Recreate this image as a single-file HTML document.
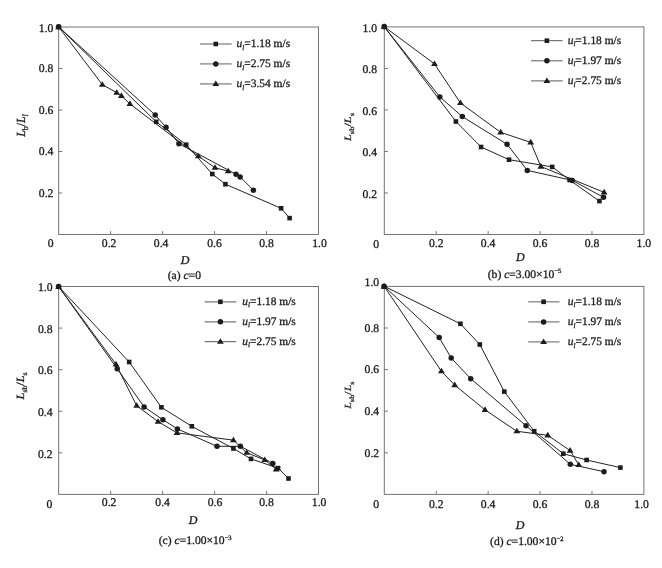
<!DOCTYPE html>
<html><head><meta charset="utf-8"><title>Figure</title>
<style>
html,body{margin:0;padding:0;background:#fff;}
body{width:662px;height:568px;overflow:hidden;font-family:"Liberation Serif",serif;}
text{stroke:#1a1a1a;stroke-width:0.3px;text-rendering:geometricPrecision;}
svg{display:block;font-family:"Liberation Serif",serif;filter:grayscale(1);will-change:transform;}
</style></head>
<body>
<svg width="662" height="568" viewBox="0 0 662 568">
<rect width="662" height="568" fill="#fff"/>
<rect x="58.65" y="27.0" width="259.85" height="207.50" fill="none" stroke="#747474" stroke-width="1.0"/>
<line x1="110.62" y1="234.5" x2="110.62" y2="231.1" stroke="#747474" stroke-width="1"/>
<line x1="58.65" y1="193.00" x2="62.25" y2="193.00" stroke="#747474" stroke-width="1"/>
<line x1="162.59" y1="234.5" x2="162.59" y2="231.1" stroke="#747474" stroke-width="1"/>
<line x1="58.65" y1="151.50" x2="62.25" y2="151.50" stroke="#747474" stroke-width="1"/>
<line x1="214.56" y1="234.5" x2="214.56" y2="231.1" stroke="#747474" stroke-width="1"/>
<line x1="58.65" y1="110.00" x2="62.25" y2="110.00" stroke="#747474" stroke-width="1"/>
<line x1="266.53" y1="234.5" x2="266.53" y2="231.1" stroke="#747474" stroke-width="1"/>
<line x1="58.65" y1="68.50" x2="62.25" y2="68.50" stroke="#747474" stroke-width="1"/>
<text x="53.4" y="196.80" text-anchor="end" font-size="11.7" fill="#1a1a1a">0.2</text>
<text x="53.4" y="155.30" text-anchor="end" font-size="11.7" fill="#1a1a1a">0.4</text>
<text x="53.4" y="113.80" text-anchor="end" font-size="11.7" fill="#1a1a1a">0.6</text>
<text x="53.4" y="72.30" text-anchor="end" font-size="11.7" fill="#1a1a1a">0.8</text>
<text x="53.4" y="32.20" text-anchor="end" font-size="11.7" fill="#1a1a1a">1.0</text>
<text x="109.12" y="246.50" text-anchor="middle" font-size="11.7" fill="#1a1a1a">0.2</text>
<text x="161.09" y="246.50" text-anchor="middle" font-size="11.7" fill="#1a1a1a">0.4</text>
<text x="214.56" y="246.50" text-anchor="middle" font-size="11.7" fill="#1a1a1a">0.6</text>
<text x="266.53" y="246.50" text-anchor="middle" font-size="11.7" fill="#1a1a1a">0.8</text>
<text x="319.50" y="246.50" text-anchor="middle" font-size="11.7" fill="#1a1a1a">1.0</text>
<text x="50.7" y="246.70" text-anchor="middle" font-size="11.7" fill="#1a1a1a">0</text>
<text x="185.1" y="263.70" text-anchor="middle" font-size="12" font-style="italic" fill="#1a1a1a">D</text>
<text x="184.3" y="279.20" text-anchor="middle" font-size="11.6" fill="#1a1a1a">(a) <tspan font-style="italic">c</tspan>=0</text>
<text transform="translate(25.2,125.5) rotate(-90) scale(1,1.05)" text-anchor="middle" font-size="11.8" fill="#1a1a1a"><tspan font-style="italic">L</tspan><tspan dy="2.8" font-size="8.0">b</tspan><tspan dy="-2.8">/</tspan><tspan font-style="italic">L</tspan><tspan dy="2.8" font-size="8.0" font-style="italic">l</tspan></text>
<polyline points="58.60,26.80 156.20,121.80 186.20,144.70 212.30,174.00 225.40,184.20 281.10,208.30 289.60,218.10" fill="none" stroke="#222" stroke-width="1.0"/>
<polyline points="58.60,26.80 155.20,115.00 166.00,127.30 178.90,143.70 236.00,174.20 240.10,176.90 253.40,190.20" fill="none" stroke="#222" stroke-width="1.0"/>
<polyline points="58.60,26.80 102.30,84.65 116.70,92.65 121.40,95.85 129.90,103.85 198.30,156.15 215.00,167.75 228.20,171.15" fill="none" stroke="#222" stroke-width="1.0"/>
<rect x="153.90" y="119.50" width="4.6" height="4.6" fill="#1c1c1c"/>
<rect x="183.90" y="142.40" width="4.6" height="4.6" fill="#1c1c1c"/>
<rect x="210.00" y="171.70" width="4.6" height="4.6" fill="#1c1c1c"/>
<rect x="223.10" y="181.90" width="4.6" height="4.6" fill="#1c1c1c"/>
<rect x="278.80" y="206.00" width="4.6" height="4.6" fill="#1c1c1c"/>
<rect x="287.30" y="215.80" width="4.6" height="4.6" fill="#1c1c1c"/>
<circle cx="155.20" cy="115.00" r="2.75" fill="#1c1c1c"/>
<circle cx="166.00" cy="127.30" r="2.75" fill="#1c1c1c"/>
<circle cx="178.90" cy="143.70" r="2.75" fill="#1c1c1c"/>
<circle cx="236.00" cy="174.20" r="2.75" fill="#1c1c1c"/>
<circle cx="240.10" cy="176.90" r="2.75" fill="#1c1c1c"/>
<circle cx="253.40" cy="190.20" r="2.75" fill="#1c1c1c"/>
<path d="M102.30 81.15 L105.70 86.75 L98.90 86.75 Z" fill="#1c1c1c"/>
<path d="M116.70 89.15 L120.10 94.75 L113.30 94.75 Z" fill="#1c1c1c"/>
<path d="M121.40 92.35 L124.80 97.95 L118.00 97.95 Z" fill="#1c1c1c"/>
<path d="M129.90 100.35 L133.30 105.95 L126.50 105.95 Z" fill="#1c1c1c"/>
<path d="M198.30 152.65 L201.70 158.25 L194.90 158.25 Z" fill="#1c1c1c"/>
<path d="M215.00 164.25 L218.40 169.85 L211.60 169.85 Z" fill="#1c1c1c"/>
<path d="M228.20 167.65 L231.60 173.25 L224.80 173.25 Z" fill="#1c1c1c"/>
<rect x="56.60" y="24.80" width="4.0" height="4.0" fill="#1c1c1c"/>
<path d="M58.60 23.70 L62.00 29.30 L55.20 29.30 Z" fill="#1c1c1c"/>
<circle cx="58.60" cy="26.80" r="2.8" fill="#1c1c1c"/>
<line x1="200.0" y1="44.0" x2="231.7" y2="44.0" stroke="#8c8c8c" stroke-width="1.4"/>
<rect x="213.50" y="41.70" width="4.6" height="4.6" fill="#1c1c1c"/>
<text x="236.6" y="47.20" font-size="11.45" fill="#1a1a1a"><tspan font-style="italic">u</tspan><tspan dy="2.4" font-size="7" font-style="italic">l</tspan><tspan dy="-2.4">=1.18 m/s</tspan></text>
<line x1="200.0" y1="63.9" x2="231.7" y2="63.9" stroke="#8c8c8c" stroke-width="1.4"/>
<circle cx="215.80" cy="63.90" r="2.75" fill="#1c1c1c"/>
<text x="236.6" y="67.10" font-size="11.45" fill="#1a1a1a"><tspan font-style="italic">u</tspan><tspan dy="2.4" font-size="7" font-style="italic">l</tspan><tspan dy="-2.4">=2.75 m/s</tspan></text>
<line x1="200.0" y1="83.9" x2="231.7" y2="83.9" stroke="#8c8c8c" stroke-width="1.4"/>
<path d="M215.80 80.40 L219.20 86.00 L212.40 86.00 Z" fill="#1c1c1c"/>
<text x="236.6" y="87.10" font-size="11.45" fill="#1a1a1a"><tspan font-style="italic">u</tspan><tspan dy="2.4" font-size="7" font-style="italic">l</tspan><tspan dy="-2.4">=3.54 m/s</tspan></text>
<rect x="384.3" y="26.9" width="259.60" height="207.60" fill="none" stroke="#747474" stroke-width="1.0"/>
<line x1="436.22" y1="234.5" x2="436.22" y2="231.1" stroke="#747474" stroke-width="1"/>
<line x1="384.3" y1="192.98" x2="387.90000000000003" y2="192.98" stroke="#747474" stroke-width="1"/>
<line x1="488.14" y1="234.5" x2="488.14" y2="231.1" stroke="#747474" stroke-width="1"/>
<line x1="384.3" y1="151.46" x2="387.90000000000003" y2="151.46" stroke="#747474" stroke-width="1"/>
<line x1="540.06" y1="234.5" x2="540.06" y2="231.1" stroke="#747474" stroke-width="1"/>
<line x1="384.3" y1="109.94" x2="387.90000000000003" y2="109.94" stroke="#747474" stroke-width="1"/>
<line x1="591.98" y1="234.5" x2="591.98" y2="231.1" stroke="#747474" stroke-width="1"/>
<line x1="384.3" y1="68.42" x2="387.90000000000003" y2="68.42" stroke="#747474" stroke-width="1"/>
<text x="377.0" y="197.78" text-anchor="end" font-size="11.7" fill="#1a1a1a">0.2</text>
<text x="377.0" y="156.26" text-anchor="end" font-size="11.7" fill="#1a1a1a">0.4</text>
<text x="377.0" y="114.74" text-anchor="end" font-size="11.7" fill="#1a1a1a">0.6</text>
<text x="377.0" y="73.22" text-anchor="end" font-size="11.7" fill="#1a1a1a">0.8</text>
<text x="377.0" y="32.20" text-anchor="end" font-size="11.7" fill="#1a1a1a">1.0</text>
<text x="436.22" y="246.80" text-anchor="middle" font-size="11.7" fill="#1a1a1a">0.2</text>
<text x="488.14" y="246.80" text-anchor="middle" font-size="11.7" fill="#1a1a1a">0.4</text>
<text x="540.06" y="246.80" text-anchor="middle" font-size="11.7" fill="#1a1a1a">0.6</text>
<text x="591.98" y="246.80" text-anchor="middle" font-size="11.7" fill="#1a1a1a">0.8</text>
<text x="643.90" y="246.80" text-anchor="middle" font-size="11.7" fill="#1a1a1a">1.0</text>
<text x="376.2" y="248.40" text-anchor="middle" font-size="11.7" fill="#1a1a1a">0</text>
<text x="520.4" y="261.20" text-anchor="middle" font-size="12" font-style="italic" fill="#1a1a1a">D</text>
<text x="524.5" y="277.60" text-anchor="middle" font-size="11.6" fill="#1a1a1a">(b) <tspan font-style="italic">c</tspan>=3.00×10<tspan dy="-4.2" font-size="6.6">−5</tspan></text>
<text transform="translate(350.5,127.0) rotate(-90) scale(1,0.78)" text-anchor="middle" font-size="12.3" fill="#1a1a1a"><tspan font-style="italic">L</tspan><tspan dy="4.0" font-size="8.6">sb</tspan><tspan dy="-4.0">/</tspan><tspan font-style="italic">L</tspan><tspan dy="4.0" font-size="8.6">s</tspan></text>
<polyline points="384.20,26.60 455.90,121.50 481.10,147.00 509.00,159.70 552.20,166.90 569.60,180.00 599.40,201.10" fill="none" stroke="#222" stroke-width="1.0"/>
<polyline points="384.20,26.60 439.80,96.90 462.30,116.60 507.10,144.30 527.30,170.40 572.30,180.40 603.50,197.30" fill="none" stroke="#222" stroke-width="1.0"/>
<polyline points="384.20,26.60 434.50,63.95 460.40,102.95 500.70,132.35 530.70,142.35 540.90,166.55 604.10,192.35" fill="none" stroke="#222" stroke-width="1.0"/>
<rect x="453.60" y="119.20" width="4.6" height="4.6" fill="#1c1c1c"/>
<rect x="478.80" y="144.70" width="4.6" height="4.6" fill="#1c1c1c"/>
<rect x="506.70" y="157.40" width="4.6" height="4.6" fill="#1c1c1c"/>
<rect x="549.90" y="164.60" width="4.6" height="4.6" fill="#1c1c1c"/>
<rect x="567.30" y="177.70" width="4.6" height="4.6" fill="#1c1c1c"/>
<rect x="597.10" y="198.80" width="4.6" height="4.6" fill="#1c1c1c"/>
<circle cx="439.80" cy="96.90" r="2.75" fill="#1c1c1c"/>
<circle cx="462.30" cy="116.60" r="2.75" fill="#1c1c1c"/>
<circle cx="507.10" cy="144.30" r="2.75" fill="#1c1c1c"/>
<circle cx="527.30" cy="170.40" r="2.75" fill="#1c1c1c"/>
<circle cx="572.30" cy="180.40" r="2.75" fill="#1c1c1c"/>
<circle cx="603.50" cy="197.30" r="2.75" fill="#1c1c1c"/>
<path d="M434.50 60.45 L437.90 66.05 L431.10 66.05 Z" fill="#1c1c1c"/>
<path d="M460.40 99.45 L463.80 105.05 L457.00 105.05 Z" fill="#1c1c1c"/>
<path d="M500.70 128.85 L504.10 134.45 L497.30 134.45 Z" fill="#1c1c1c"/>
<path d="M530.70 138.85 L534.10 144.45 L527.30 144.45 Z" fill="#1c1c1c"/>
<path d="M540.90 163.05 L544.30 168.65 L537.50 168.65 Z" fill="#1c1c1c"/>
<path d="M604.10 188.85 L607.50 194.45 L600.70 194.45 Z" fill="#1c1c1c"/>
<rect x="382.20" y="24.60" width="4.0" height="4.0" fill="#1c1c1c"/>
<path d="M384.20 23.50 L387.60 29.10 L380.80 29.10 Z" fill="#1c1c1c"/>
<circle cx="384.20" cy="26.60" r="2.8" fill="#1c1c1c"/>
<line x1="531.1" y1="40.7" x2="562.6" y2="40.7" stroke="#5a5a5a" stroke-width="1.0"/>
<rect x="544.60" y="38.40" width="4.6" height="4.6" fill="#1c1c1c"/>
<text x="567.7" y="43.90" font-size="11.45" fill="#1a1a1a"><tspan font-style="italic">u</tspan><tspan dy="2.4" font-size="7" font-style="italic">l</tspan><tspan dy="-2.4">=1.18 m/s</tspan></text>
<line x1="531.1" y1="60.8" x2="562.6" y2="60.8" stroke="#5a5a5a" stroke-width="1.0"/>
<circle cx="546.90" cy="60.80" r="2.75" fill="#1c1c1c"/>
<text x="567.7" y="64.00" font-size="11.45" fill="#1a1a1a"><tspan font-style="italic">u</tspan><tspan dy="2.4" font-size="7" font-style="italic">l</tspan><tspan dy="-2.4">=1.97 m/s</tspan></text>
<line x1="531.1" y1="80.9" x2="562.6" y2="80.9" stroke="#5a5a5a" stroke-width="1.0"/>
<path d="M546.90 77.40 L550.30 83.00 L543.50 83.00 Z" fill="#1c1c1c"/>
<text x="567.7" y="84.10" font-size="11.45" fill="#1a1a1a"><tspan font-style="italic">u</tspan><tspan dy="2.4" font-size="7" font-style="italic">l</tspan><tspan dy="-2.4">=2.75 m/s</tspan></text>
<rect x="58.65" y="286.5" width="259.85" height="207.90" fill="none" stroke="#747474" stroke-width="1.0"/>
<line x1="110.62" y1="494.4" x2="110.62" y2="491.0" stroke="#747474" stroke-width="1"/>
<line x1="58.65" y1="452.82" x2="62.25" y2="452.82" stroke="#747474" stroke-width="1"/>
<line x1="162.59" y1="494.4" x2="162.59" y2="491.0" stroke="#747474" stroke-width="1"/>
<line x1="58.65" y1="411.24" x2="62.25" y2="411.24" stroke="#747474" stroke-width="1"/>
<line x1="214.56" y1="494.4" x2="214.56" y2="491.0" stroke="#747474" stroke-width="1"/>
<line x1="58.65" y1="369.66" x2="62.25" y2="369.66" stroke="#747474" stroke-width="1"/>
<line x1="266.53" y1="494.4" x2="266.53" y2="491.0" stroke="#747474" stroke-width="1"/>
<line x1="58.65" y1="328.08" x2="62.25" y2="328.08" stroke="#747474" stroke-width="1"/>
<text x="52.6" y="457.62" text-anchor="end" font-size="11.7" fill="#1a1a1a">0.2</text>
<text x="52.6" y="416.04" text-anchor="end" font-size="11.7" fill="#1a1a1a">0.4</text>
<text x="52.6" y="374.46" text-anchor="end" font-size="11.7" fill="#1a1a1a">0.6</text>
<text x="52.6" y="332.88" text-anchor="end" font-size="11.7" fill="#1a1a1a">0.8</text>
<text x="52.6" y="291.30" text-anchor="end" font-size="11.7" fill="#1a1a1a">1.0</text>
<text x="109.12" y="505.90" text-anchor="middle" font-size="11.7" fill="#1a1a1a">0.2</text>
<text x="162.59" y="505.90" text-anchor="middle" font-size="11.7" fill="#1a1a1a">0.4</text>
<text x="215.06" y="505.90" text-anchor="middle" font-size="11.7" fill="#1a1a1a">0.6</text>
<text x="266.53" y="505.90" text-anchor="middle" font-size="11.7" fill="#1a1a1a">0.8</text>
<text x="319.10" y="505.90" text-anchor="middle" font-size="11.7" fill="#1a1a1a">1.0</text>
<text x="49.4" y="507.80" text-anchor="middle" font-size="11.7" fill="#1a1a1a">0</text>
<text x="193.0" y="523.90" text-anchor="middle" font-size="12" font-style="italic" fill="#1a1a1a">D</text>
<text x="195.2" y="544.10" text-anchor="middle" font-size="11.6" fill="#1a1a1a">(c) <tspan font-style="italic">c</tspan>=1.00×10<tspan dy="-4.2" font-size="6.6">−3</tspan></text>
<text transform="translate(24.3,385.9) rotate(-90) scale(1,0.9)" text-anchor="middle" font-size="12.3" fill="#1a1a1a"><tspan font-style="italic">L</tspan><tspan dy="3.0" font-size="7.8">sb</tspan><tspan dy="-3.0">/</tspan><tspan font-style="italic">L</tspan><tspan dy="3.0" font-size="7.8">s</tspan></text>
<polyline points="58.60,286.50 129.20,362.00 161.40,407.30 191.80,426.30 233.40,448.50 251.00,458.90 278.10,468.10 288.50,478.50" fill="none" stroke="#222" stroke-width="1.0"/>
<polyline points="58.60,286.50 117.20,368.70 144.10,406.90 162.90,419.70 177.40,428.90 217.00,446.30 240.40,446.30 272.80,463.50" fill="none" stroke="#222" stroke-width="1.0"/>
<polyline points="58.60,286.50 116.00,364.35 136.70,405.75 158.10,421.65 177.00,432.85 233.40,440.15 246.70,452.75 264.80,459.95 276.20,469.35" fill="none" stroke="#222" stroke-width="1.0"/>
<rect x="126.90" y="359.70" width="4.6" height="4.6" fill="#1c1c1c"/>
<rect x="159.10" y="405.00" width="4.6" height="4.6" fill="#1c1c1c"/>
<rect x="189.50" y="424.00" width="4.6" height="4.6" fill="#1c1c1c"/>
<rect x="231.10" y="446.20" width="4.6" height="4.6" fill="#1c1c1c"/>
<rect x="248.70" y="456.60" width="4.6" height="4.6" fill="#1c1c1c"/>
<rect x="275.80" y="465.80" width="4.6" height="4.6" fill="#1c1c1c"/>
<rect x="286.20" y="476.20" width="4.6" height="4.6" fill="#1c1c1c"/>
<circle cx="117.20" cy="368.70" r="2.75" fill="#1c1c1c"/>
<circle cx="144.10" cy="406.90" r="2.75" fill="#1c1c1c"/>
<circle cx="162.90" cy="419.70" r="2.75" fill="#1c1c1c"/>
<circle cx="177.40" cy="428.90" r="2.75" fill="#1c1c1c"/>
<circle cx="217.00" cy="446.30" r="2.75" fill="#1c1c1c"/>
<circle cx="240.40" cy="446.30" r="2.75" fill="#1c1c1c"/>
<circle cx="272.80" cy="463.50" r="2.75" fill="#1c1c1c"/>
<path d="M116.00 360.85 L119.40 366.45 L112.60 366.45 Z" fill="#1c1c1c"/>
<path d="M136.70 402.25 L140.10 407.85 L133.30 407.85 Z" fill="#1c1c1c"/>
<path d="M158.10 418.15 L161.50 423.75 L154.70 423.75 Z" fill="#1c1c1c"/>
<path d="M177.00 429.35 L180.40 434.95 L173.60 434.95 Z" fill="#1c1c1c"/>
<path d="M233.40 436.65 L236.80 442.25 L230.00 442.25 Z" fill="#1c1c1c"/>
<path d="M246.70 449.25 L250.10 454.85 L243.30 454.85 Z" fill="#1c1c1c"/>
<path d="M264.80 456.45 L268.20 462.05 L261.40 462.05 Z" fill="#1c1c1c"/>
<path d="M276.20 465.85 L279.60 471.45 L272.80 471.45 Z" fill="#1c1c1c"/>
<rect x="56.60" y="284.50" width="4.0" height="4.0" fill="#1c1c1c"/>
<path d="M58.60 283.40 L62.00 289.00 L55.20 289.00 Z" fill="#1c1c1c"/>
<circle cx="58.60" cy="286.50" r="2.8" fill="#1c1c1c"/>
<line x1="204.6" y1="301.8" x2="236.2" y2="301.8" stroke="#777" stroke-width="1.2"/>
<rect x="218.10" y="299.50" width="4.6" height="4.6" fill="#1c1c1c"/>
<text x="242.3" y="305.00" font-size="11.45" fill="#1a1a1a"><tspan font-style="italic">u</tspan><tspan dy="2.4" font-size="7" font-style="italic">l</tspan><tspan dy="-2.4">=1.18 m/s</tspan></text>
<line x1="204.6" y1="321.8" x2="236.2" y2="321.8" stroke="#777" stroke-width="1.2"/>
<circle cx="220.40" cy="321.80" r="2.75" fill="#1c1c1c"/>
<text x="242.3" y="325.00" font-size="11.45" fill="#1a1a1a"><tspan font-style="italic">u</tspan><tspan dy="2.4" font-size="7" font-style="italic">l</tspan><tspan dy="-2.4">=1.97 m/s</tspan></text>
<line x1="204.6" y1="341.7" x2="236.2" y2="341.7" stroke="#777" stroke-width="1.2"/>
<path d="M220.40 338.20 L223.80 343.80 L217.00 343.80 Z" fill="#1c1c1c"/>
<text x="242.3" y="344.90" font-size="11.45" fill="#1a1a1a"><tspan font-style="italic">u</tspan><tspan dy="2.4" font-size="7" font-style="italic">l</tspan><tspan dy="-2.4">=2.75 m/s</tspan></text>
<rect x="384.3" y="286.4" width="259.60" height="208.00" fill="none" stroke="#747474" stroke-width="1.0"/>
<line x1="436.22" y1="494.4" x2="436.22" y2="491.0" stroke="#747474" stroke-width="1"/>
<line x1="384.3" y1="452.80" x2="387.90000000000003" y2="452.80" stroke="#747474" stroke-width="1"/>
<line x1="488.14" y1="494.4" x2="488.14" y2="491.0" stroke="#747474" stroke-width="1"/>
<line x1="384.3" y1="411.20" x2="387.90000000000003" y2="411.20" stroke="#747474" stroke-width="1"/>
<line x1="540.06" y1="494.4" x2="540.06" y2="491.0" stroke="#747474" stroke-width="1"/>
<line x1="384.3" y1="369.60" x2="387.90000000000003" y2="369.60" stroke="#747474" stroke-width="1"/>
<line x1="591.98" y1="494.4" x2="591.98" y2="491.0" stroke="#747474" stroke-width="1"/>
<line x1="384.3" y1="328.00" x2="387.90000000000003" y2="328.00" stroke="#747474" stroke-width="1"/>
<text x="379.2" y="456.60" text-anchor="end" font-size="11.7" fill="#1a1a1a">0.2</text>
<text x="379.2" y="415.00" text-anchor="end" font-size="11.7" fill="#1a1a1a">0.4</text>
<text x="379.2" y="373.40" text-anchor="end" font-size="11.7" fill="#1a1a1a">0.6</text>
<text x="379.2" y="331.80" text-anchor="end" font-size="11.7" fill="#1a1a1a">0.8</text>
<text x="379.2" y="285.70" text-anchor="end" font-size="11.7" fill="#1a1a1a">1.0</text>
<text x="436.22" y="508.00" text-anchor="middle" font-size="11.7" fill="#1a1a1a">0.2</text>
<text x="488.14" y="508.00" text-anchor="middle" font-size="11.7" fill="#1a1a1a">0.4</text>
<text x="540.06" y="508.00" text-anchor="middle" font-size="11.7" fill="#1a1a1a">0.6</text>
<text x="591.98" y="508.00" text-anchor="middle" font-size="11.7" fill="#1a1a1a">0.8</text>
<text x="641.60" y="508.00" text-anchor="middle" font-size="11.7" fill="#1a1a1a">1.0</text>
<text x="376.2" y="508.40" text-anchor="middle" font-size="11.7" fill="#1a1a1a">0</text>
<text x="520.2" y="528.60" text-anchor="middle" font-size="12" font-style="italic" fill="#1a1a1a">D</text>
<text x="526.8" y="545.20" text-anchor="middle" font-size="11.6" fill="#1a1a1a">(d) <tspan font-style="italic">c</tspan>=1.00×10<tspan dy="-4.2" font-size="6.6">−2</tspan></text>
<text transform="translate(350.5,395.1) rotate(-90) scale(1,0.78)" text-anchor="middle" font-size="12.0" fill="#1a1a1a"><tspan font-style="italic">L</tspan><tspan dy="4.0" font-size="8.4">sb</tspan><tspan dy="-4.0">/</tspan><tspan font-style="italic">L</tspan><tspan dy="4.0" font-size="8.4">s</tspan></text>
<polyline points="384.10,286.20 460.40,323.80 479.80,344.50 504.30,391.60 534.20,431.20 563.30,453.70 586.60,460.00 620.40,467.60" fill="none" stroke="#222" stroke-width="1.0"/>
<polyline points="384.10,286.20 439.20,337.50 451.20,358.00 470.70,378.70 526.00,425.70 570.30,464.30 604.00,471.70" fill="none" stroke="#222" stroke-width="1.0"/>
<polyline points="384.10,286.20 441.40,371.25 454.70,385.05 485.00,409.85 516.80,431.25 547.80,435.35 570.10,450.55 578.80,464.95" fill="none" stroke="#222" stroke-width="1.0"/>
<rect x="458.10" y="321.50" width="4.6" height="4.6" fill="#1c1c1c"/>
<rect x="477.50" y="342.20" width="4.6" height="4.6" fill="#1c1c1c"/>
<rect x="502.00" y="389.30" width="4.6" height="4.6" fill="#1c1c1c"/>
<rect x="531.90" y="428.90" width="4.6" height="4.6" fill="#1c1c1c"/>
<rect x="561.00" y="451.40" width="4.6" height="4.6" fill="#1c1c1c"/>
<rect x="584.30" y="457.70" width="4.6" height="4.6" fill="#1c1c1c"/>
<rect x="618.10" y="465.30" width="4.6" height="4.6" fill="#1c1c1c"/>
<circle cx="439.20" cy="337.50" r="2.75" fill="#1c1c1c"/>
<circle cx="451.20" cy="358.00" r="2.75" fill="#1c1c1c"/>
<circle cx="470.70" cy="378.70" r="2.75" fill="#1c1c1c"/>
<circle cx="526.00" cy="425.70" r="2.75" fill="#1c1c1c"/>
<circle cx="570.30" cy="464.30" r="2.75" fill="#1c1c1c"/>
<circle cx="604.00" cy="471.70" r="2.75" fill="#1c1c1c"/>
<path d="M441.40 367.75 L444.80 373.35 L438.00 373.35 Z" fill="#1c1c1c"/>
<path d="M454.70 381.55 L458.10 387.15 L451.30 387.15 Z" fill="#1c1c1c"/>
<path d="M485.00 406.35 L488.40 411.95 L481.60 411.95 Z" fill="#1c1c1c"/>
<path d="M516.80 427.75 L520.20 433.35 L513.40 433.35 Z" fill="#1c1c1c"/>
<path d="M547.80 431.85 L551.20 437.45 L544.40 437.45 Z" fill="#1c1c1c"/>
<path d="M570.10 447.05 L573.50 452.65 L566.70 452.65 Z" fill="#1c1c1c"/>
<path d="M578.80 461.45 L582.20 467.05 L575.40 467.05 Z" fill="#1c1c1c"/>
<rect x="382.10" y="284.20" width="4.0" height="4.0" fill="#1c1c1c"/>
<path d="M384.10 283.10 L387.50 288.70 L380.70 288.70 Z" fill="#1c1c1c"/>
<circle cx="384.10" cy="286.20" r="2.8" fill="#1c1c1c"/>
<line x1="528.2" y1="301.8" x2="559.6" y2="301.8" stroke="#8c8c8c" stroke-width="1.4"/>
<rect x="541.30" y="299.50" width="4.6" height="4.6" fill="#1c1c1c"/>
<text x="567.8" y="305.00" font-size="11.45" fill="#1a1a1a"><tspan font-style="italic">u</tspan><tspan dy="2.4" font-size="7" font-style="italic">l</tspan><tspan dy="-2.4">=1.18 m/s</tspan></text>
<line x1="528.2" y1="321.9" x2="559.6" y2="321.9" stroke="#8c8c8c" stroke-width="1.4"/>
<circle cx="543.60" cy="321.90" r="2.75" fill="#1c1c1c"/>
<text x="567.8" y="325.10" font-size="11.45" fill="#1a1a1a"><tspan font-style="italic">u</tspan><tspan dy="2.4" font-size="7" font-style="italic">l</tspan><tspan dy="-2.4">=1.97 m/s</tspan></text>
<line x1="528.2" y1="341.9" x2="559.6" y2="341.9" stroke="#8c8c8c" stroke-width="1.4"/>
<path d="M543.60 338.40 L547.00 344.00 L540.20 344.00 Z" fill="#1c1c1c"/>
<text x="567.8" y="345.10" font-size="11.45" fill="#1a1a1a"><tspan font-style="italic">u</tspan><tspan dy="2.4" font-size="7" font-style="italic">l</tspan><tspan dy="-2.4">=2.75 m/s</tspan></text>
</svg>
</body></html>
